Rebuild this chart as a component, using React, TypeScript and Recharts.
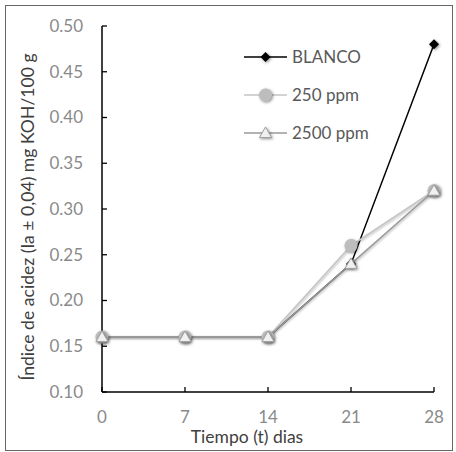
import React from "react";
import { LineChart, Line, XAxis, YAxis, Legend } from "recharts";

const days = [0, 7, 14, 21, 28];
const blanco = [0.16, 0.16, 0.16, 0.24, 0.48];
const ppm250 = [0.16, 0.16, 0.16, 0.26, 0.32];
const ppm2500 = [0.16, 0.16, 0.16, 0.24, 0.32];
const yTicks = [0.1, 0.15, 0.2, 0.25, 0.3, 0.35, 0.4, 0.45, 0.5];

const data = days.map((d, i) => ({
  day: d,
  blanco: blanco[i],
  p250: ppm250[i],
  p2500: ppm2500[i],
}));

const FONT = "Lato, 'Open Sans', sans-serif";
const SHADOW = "drop-shadow(1px 1px 1.5px rgba(0,0,0,0.45))";
const LINE_SHADOW = "drop-shadow(1px 1px 1px rgba(0,0,0,0.3))";
const Y_MARGIN = 19;
const X_MARGIN = 25;

function Diamond({ cx, cy }: { cx: number; cy: number }) {
  const s = 5;
  return (
    <path
      d={`M${cx},${cy - s}L${cx + s},${cy}L${cx},${cy + s}L${cx - s},${cy}Z`}
      fill="#000"
      style={{ filter: SHADOW }}
    />
  );
}

function Dot({ cx, cy }: { cx: number; cy: number }) {
  return <circle cx={cx} cy={cy} r={6.5} fill="#bdbdbd" style={{ filter: SHADOW }} />;
}

function Tri({ cx, cy }: { cx: number; cy: number }) {
  const h = 6;
  return (
    <path
      d={`M${cx},${cy - h}L${cx + h},${cy + h * 0.75}L${cx - h},${cy + h * 0.75}Z`}
      fill="#f0f0f0"
      stroke="#a0a0a0"
      strokeWidth={1}
      style={{ filter: SHADOW }}
    />
  );
}

function YTick(props: any) {
  const { x, y, payload } = props;
  return (
    <g>
      <line x1={x + Y_MARGIN} x2={x + Y_MARGIN + 5} y1={y} y2={y} stroke="#000" strokeWidth={1.3} />
      <text x={x} y={y} dy="0.35em" textAnchor="end" fontSize={17} fill="#8a8a8a" fontFamily={FONT}>
        {Number(payload.value).toFixed(2)}
      </text>
    </g>
  );
}

function XTick(props: any) {
  const { x, y, payload } = props;
  return (
    <g>
      <line x1={x} x2={x} y1={y - X_MARGIN} y2={y - X_MARGIN - 5} stroke="#000" strokeWidth={1.3} />
      <text x={x} y={y} dy="0.35em" textAnchor="middle" fontSize={17} fill="#8a8a8a" fontFamily={FONT}>
        {payload.value}
      </text>
    </g>
  );
}

const legendItems = [
  { name: "BLANCO", color: "#000", shape: "diamond" },
  { name: "250 ppm", color: "#c4c4c4", shape: "circle" },
  { name: "2500 ppm", color: "#9a9a9a", shape: "triangle" },
];

function LegendBox() {
  return (
    <svg width={200} height={120} style={{ overflow: "visible" }}>
      {legendItems.map((it, i) => {
        const y = 22 + i * 38;
        return (
          <g key={it.name}>
            <line x1={6} x2={49} y1={y} y2={y} stroke={it.color} strokeWidth={1.5} />
            {it.shape === "diamond" && <Diamond cx={27.5} cy={y} />}
            {it.shape === "circle" && <Dot cx={27.5} cy={y} />}
            {it.shape === "triangle" && <Tri cx={27.5} cy={y} />}
            <text x={54} y={y} dy="0.35em" fontSize={17} fill="#595959" fontFamily={FONT}>
              {it.name}
            </text>
          </g>
        );
      })}
    </svg>
  );
}

export default function App() {
  return (
    <div style={{ position: "absolute", left: 0, top: 0, width: 456, height: 452, background: "#fff" }}>
      <div
        style={{
          position: "absolute",
          left: 5,
          top: 5,
          width: 446,
          height: 444,
          border: "1px solid #666",
        }}
      />
      <LineChart
        width={456}
        height={452}
        data={data}
        margin={{ top: 26, right: 22, bottom: 0, left: 0 }}
        style={{ position: "absolute", left: 0, top: 0 }}
      >
        <XAxis
          dataKey="day"
          type="number"
          domain={[0, 28]}
          ticks={days}
          height={60}
          tickSize={0}
          tickMargin={X_MARGIN}
          tick={XTick}
          axisLine={{ stroke: "#000", strokeWidth: 1.5 }}
          label={() => (
            <text x={247} y={443} textAnchor="middle" fontSize={17.5} fill="#404040" fontFamily={FONT}>
              Tiempo (t) dias
            </text>
          )}
        />
        <YAxis
          type="number"
          domain={[0.1, 0.5]}
          ticks={yTicks}
          width={102}
          tickSize={0}
          tickMargin={Y_MARGIN}
          tick={YTick}
          axisLine={{ stroke: "#000", strokeWidth: 1.5 }}
          label={() => (
            <text
              x={34}
              y={217}
              transform="rotate(-90 34 217)"
              textAnchor="middle"
              fontSize={17.6}
              fill="#404040"
              fontFamily={FONT}
            >
              Índice de acidez (Ia ± 0,04) mg KOH/100 g
            </text>
          )}
        />
        <Legend
          layout="vertical"
          align="center"
          verticalAlign="middle"
          content={() => <LegendBox />}
          wrapperStyle={{ left: 238, top: 35, width: 200, height: 120 }}
        />
        <Line
          dataKey="blanco"
          stroke="#000"
          strokeWidth={1.5}
          isAnimationActive={false}
          dot={(p: any) => <Diamond key={`b${p.index}`} cx={p.cx} cy={p.cy} />}
          activeDot={false}
        />
        <Line
          dataKey="p250"
          stroke="#c4c4c4"
          strokeWidth={1.5}
          style={{ filter: LINE_SHADOW }}
          isAnimationActive={false}
          dot={(p: any) => <Dot key={`c${p.index}`} cx={p.cx} cy={p.cy} />}
          activeDot={false}
        />
        <Line
          dataKey="p2500"
          stroke="#9a9a9a"
          strokeWidth={1.5}
          style={{ filter: LINE_SHADOW }}
          isAnimationActive={false}
          dot={(p: any) => <Tri key={`t${p.index}`} cx={p.cx} cy={p.cy} />}
          activeDot={false}
        />
      </LineChart>
    </div>
  );
}
